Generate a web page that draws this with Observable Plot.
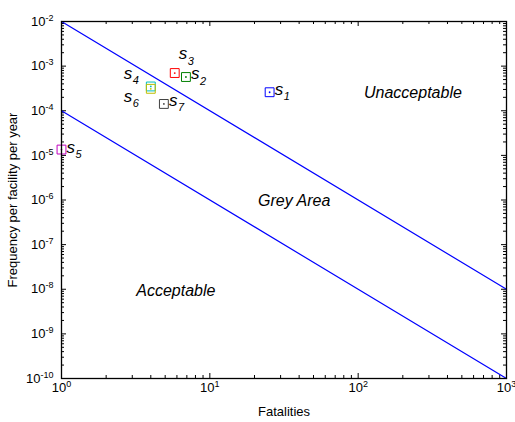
<!DOCTYPE html>
<html><head><meta charset="utf-8">
<script src="https://cdn.jsdelivr.net/npm/d3@7"></script>
<script src="https://cdn.jsdelivr.net/npm/@observablehq/plot@0.6"></script>
<style>html,body{margin:0;padding:0;background:#fff}</style>
</head><body><div id="chart"></div>
<script>
// ---- data ----
const scenarios = ["1", "2", "3", "4", "5", "6", "7"];
const fatalities = [25.3, 6.9, 5.8, 4.0, 1.0, 4.0, 4.9];
const frequency = [2.6e-4, 5.7e-4, 7.0e-4, 3.5e-4, 1.35e-5, 3.1e-4, 1.42e-4];
const colors = ["#0000ff", "#008000", "#ff0000", "#00bfbf", "#bf00bf", "#bfbf00", "#404040"];
const lineX = [1, 1000];
const upperY = [1e-2, 1e-8];
const lowerY = [1e-4, 1e-10];
const regions = ["Unacceptable", "Grey Area", "Acceptable"];
const regionX = [234, 37, 5.9];
const regionY = [2.5e-4, 9.5e-7, 9e-9];
const xTicks = [1, 10, 100, 1000];
const yTicks = [1e-10, 1e-9, 1e-8, 1e-7, 1e-6, 1e-5, 1e-4, 1e-3, 1e-2];

// ---- build ----
const W = 515, H = 422, mL = 61, mR = 9, mT = 21, mB = 44;
const fw = W - mL - mR, fh = H - mT - mB;
const xMinor = d3.scaleLog().domain([1, 1000]).ticks();
const yMinor = d3.scaleLog().domain([1e-10, 1e-2]).ticks();
const idx = scenarios.map((_, i) => i);
const lineIdx = lineX.map((_, i) => i);
const expFmt = d => "10^" + Math.round(Math.log10(d));
const isMajor = d => Math.abs(Math.log10(d) - Math.round(Math.log10(d))) < 1e-9;

// label placement (pixels, relative to marker)
const labelOffset = {"1": [5, -3], "2": [5, -3], "3": [4, -19], "4": [-27, -13], "5": [5, -2], "6": [-27, 8], "7": [5, -3]};

const labelMarks = idx.flatMap(i => {
  const [dx, dy] = labelOffset[scenarios[i]];
  return [
    Plot.text([i], {x: j => fatalities[j], y: j => frequency[j], text: () => "s", dx, dy, textAnchor: "start", fontSize: 17, fontStyle: "italic", fill: "black"}),
    Plot.text([i], {x: j => fatalities[j], y: j => frequency[j], text: j => scenarios[j], dx: dx + 9, dy: dy + 7, textAnchor: "start", fontSize: 11, fontStyle: "italic", fill: "black"})
  ];
});

// inward tick marks on all four sides
const tickMarks = [];
for (const [len, filt] of [[3, d => !isMajor(d)], [5, isMajor]]) {
  const xs = xMinor.filter(filt), ys = yMinor.filter(filt);
  tickMarks.push(
    Plot.tickX(xs, {x: d => d, insetTop: fh - len, stroke: "black"}),
    Plot.tickX(xs, {x: d => d, insetBottom: fh - len, stroke: "black"}),
    Plot.tickY(ys, {y: d => d, insetRight: fw - len, stroke: "black"}),
    Plot.tickY(ys, {y: d => d, insetLeft: fw - len, stroke: "black"})
  );
}

const chart = Plot.plot({
  width: W,
  height: H,
  marginLeft: mL,
  marginRight: mR,
  marginTop: mT,
  marginBottom: mB,
  style: {fontFamily: "'Liberation Sans', Arial, sans-serif", fontSize: "13px", background: "white", overflow: "visible"},
  x: {type: "log", domain: [1, 1000], axis: null},
  y: {type: "log", domain: [1e-10, 1e-2], axis: null},
  color: {type: "identity"},
  marks: [
    ...tickMarks,
    // tick labels
    Plot.axisX(xTicks, {anchor: "bottom", tickSize: 0, tickPadding: 4, tickFormat: expFmt, label: null, fill: "black", fontSize: 13}),
    Plot.axisY(yTicks, {anchor: "left", tickSize: 0, tickPadding: 8, tickFormat: expFmt, label: null, fill: "black", fontSize: 13}),
    // axis titles
    Plot.text([0], {frameAnchor: "bottom", dy: 33, lineAnchor: "middle", text: () => "Fatalities", fontSize: 13, fill: "black"}),
    Plot.text([0], {frameAnchor: "left", dx: -49, rotate: -90, textAnchor: "middle", lineAnchor: "middle", text: () => "Frequency per facility per year", fontSize: 13, fill: "black"}),
    // boundary lines
    Plot.line(lineIdx, {x: i => lineX[i], y: i => upperY[i], stroke: "#0000ff", strokeWidth: 1.2}),
    Plot.line(lineIdx, {x: i => lineX[i], y: i => lowerY[i], stroke: "#0000ff", strokeWidth: 1.2}),
    // region labels
    Plot.text(regions.map((_, i) => i), {x: i => regionX[i], y: i => regionY[i], text: i => regions[i], fontSize: 16, fontStyle: "italic", fill: "black"}),
    // scenario markers
    Plot.dot(idx, {x: i => fatalities[i], y: i => frequency[i], symbol: "square", r: 5, stroke: i => colors[i], fill: "none", strokeWidth: 1}),
    Plot.dot(idx, {x: i => fatalities[i], y: i => frequency[i], r: 0.9, fill: i => colors[i], stroke: "none"}),
    ...labelMarks,
    Plot.frame({stroke: "black", strokeWidth: 1.3})
  ]
});

// superscript exponents in tick labels
d3.select(chart).selectAll("text").each(function () {
  const t = this.textContent;
  const m = /^10\^(-?\d+)$/.exec(t);
  if (!m) return;
  const el = d3.select(this);
  el.text("");
  el.append("tspan").text("10");
  el.append("tspan").attr("dy", "-0.55em").attr("font-size", "9px").text(m[1]);
});

document.getElementById("chart").appendChild(chart);
</script>
</body></html>
